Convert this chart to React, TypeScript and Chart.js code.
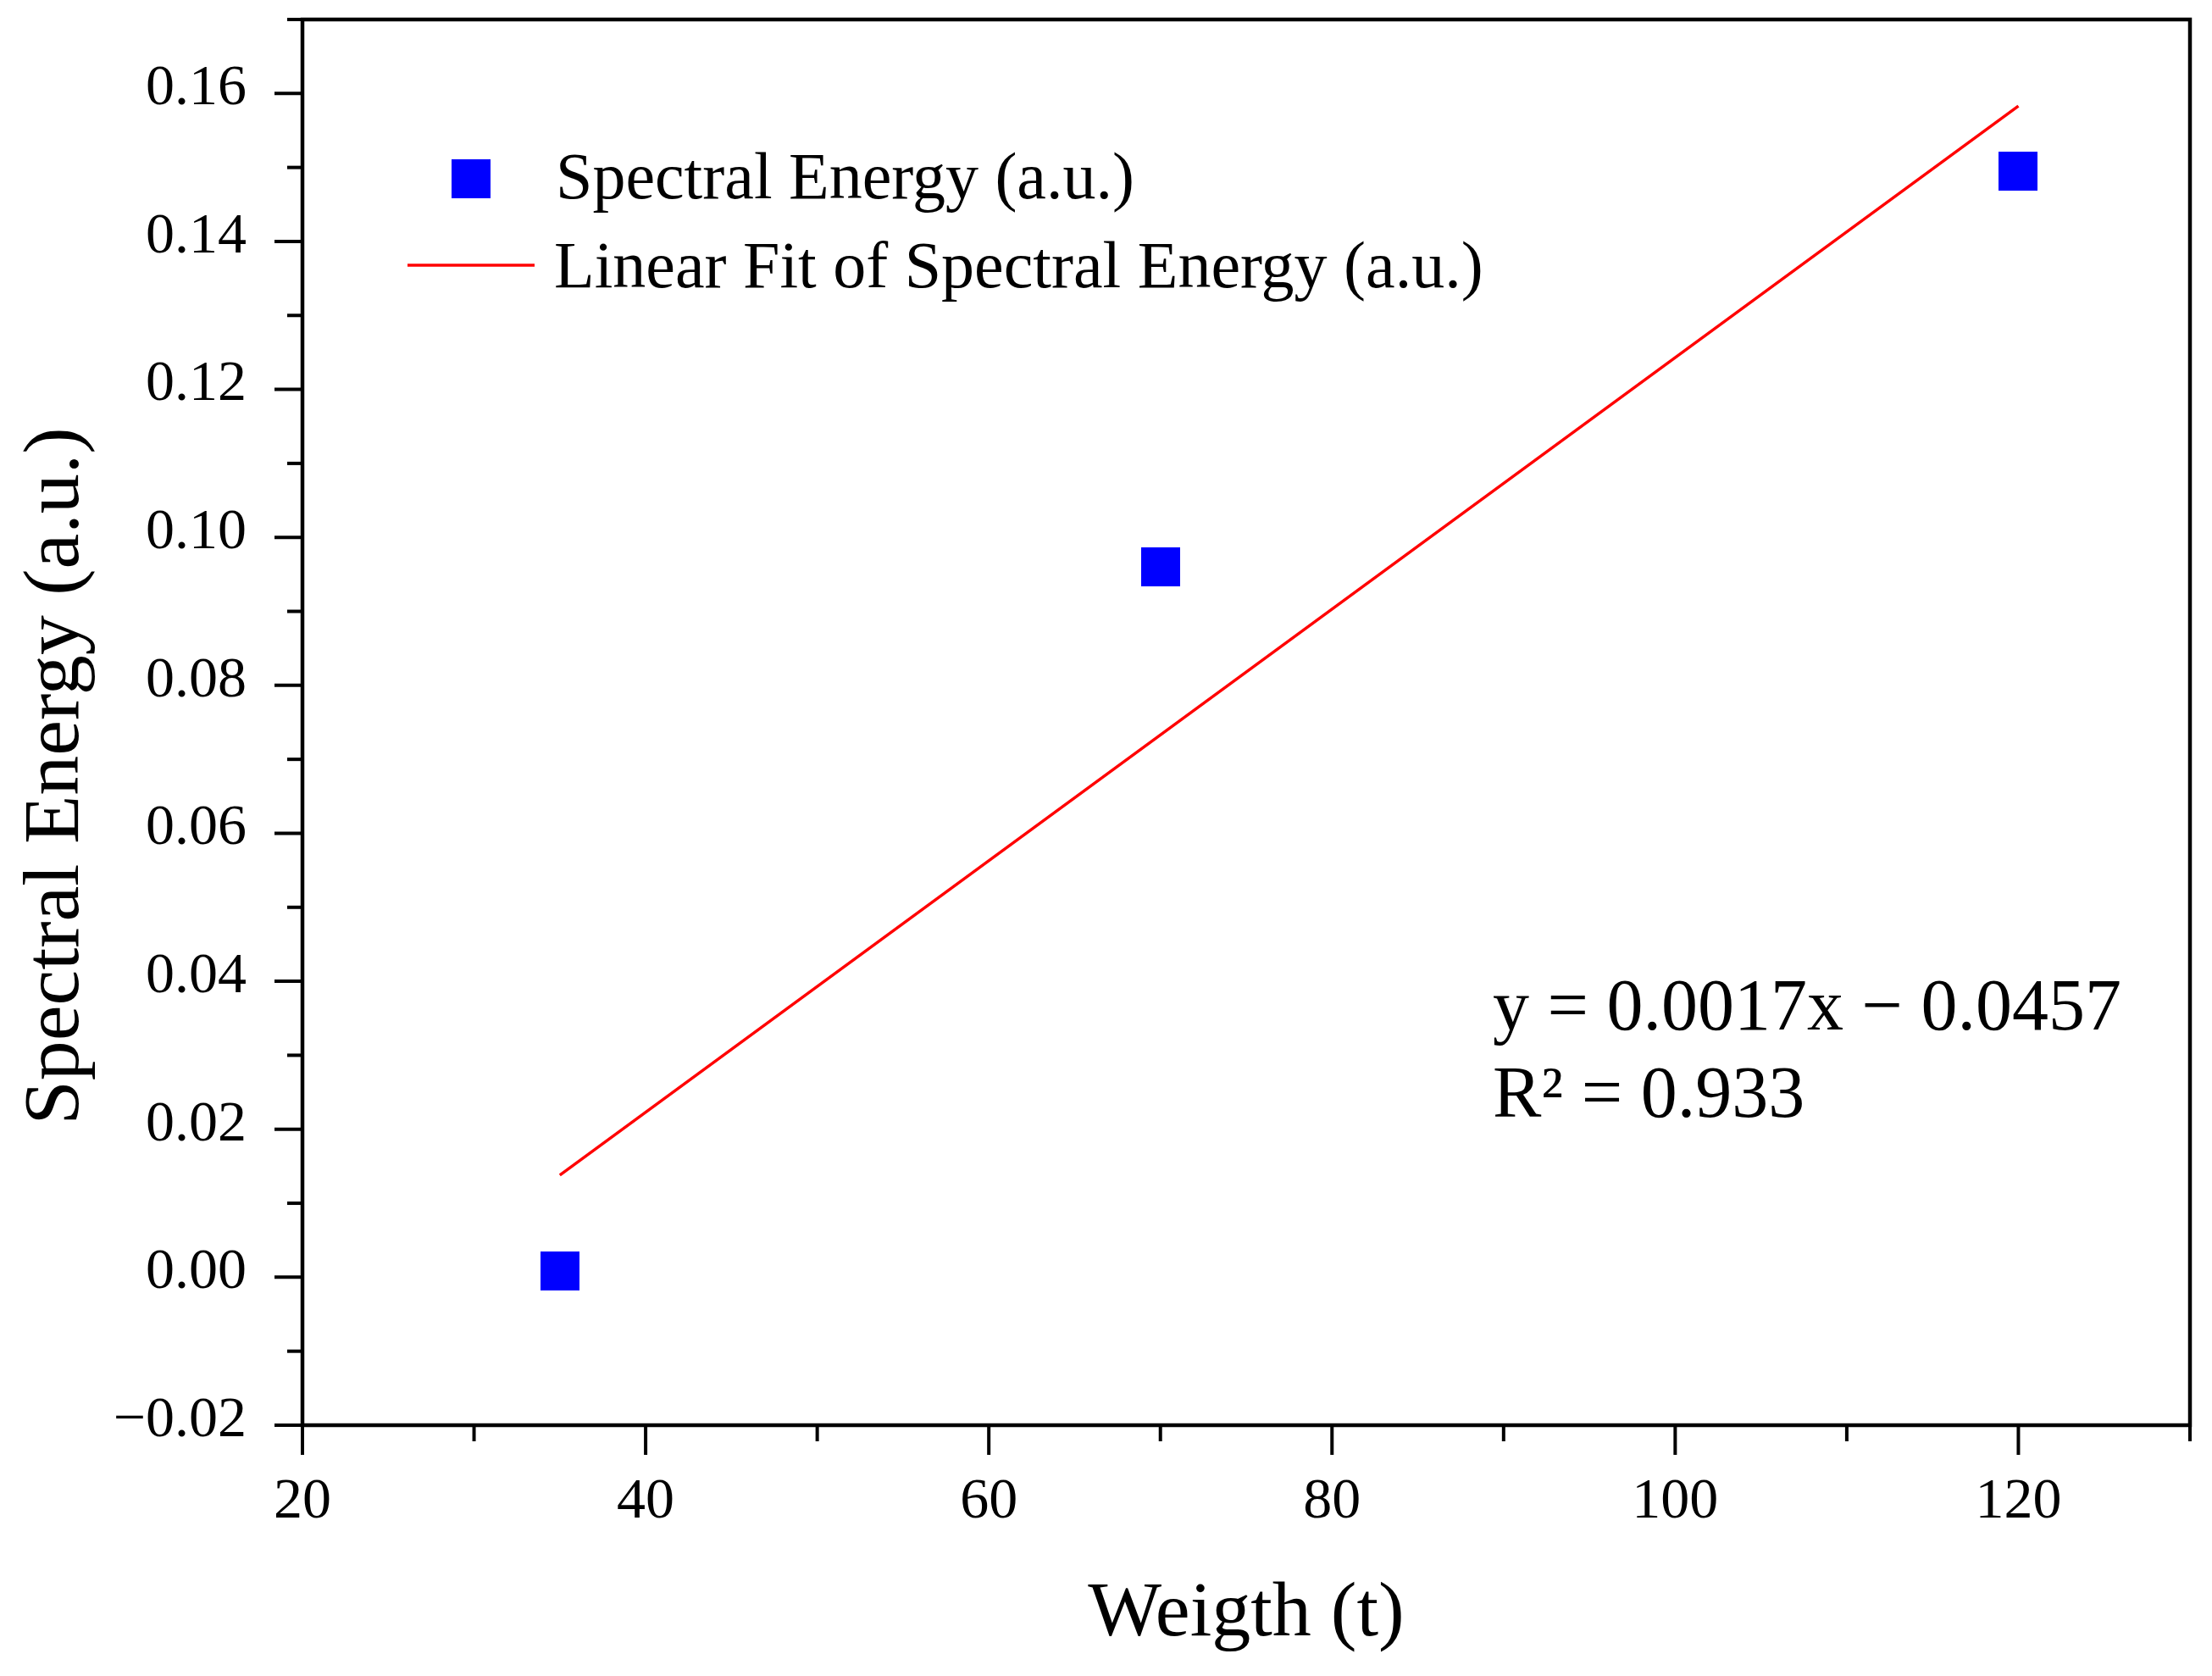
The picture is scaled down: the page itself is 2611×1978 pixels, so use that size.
import React, { useEffect, useRef } from 'react';
import { Chart, registerables } from 'chart.js';

Chart.register(...registerables);

// ---- data ----
const weights = [35, 70, 120];
const energies = [0.0008, 0.096, 0.1495];
const fitX = [35, 120];
const fitY = [0.0138, 0.1583];

const xTickValues = [20, 30, 40, 50, 60, 70, 80, 90, 100, 110, 120, 130];
const xMajorValues = [20, 40, 60, 80, 100, 120];
const xTickLabels = ['20', '40', '60', '80', '100', '120'];

const yTickValues = [-0.02, -0.01, 0, 0.01, 0.02, 0.03, 0.04, 0.05, 0.06, 0.07, 0.08, 0.09, 0.1, 0.11, 0.12, 0.13, 0.14, 0.15, 0.16, 0.17];
const yMajorValues = [-0.02, 0, 0.02, 0.04, 0.06, 0.08, 0.1, 0.12, 0.14, 0.16];
const yTickLabels = ['\u22120.02', '0.00', '0.02', '0.04', '0.06', '0.08', '0.10', '0.12', '0.14', '0.16'];

const legendLabels = ['Spectral Energy (a.u.)', 'Linear Fit of Spectral Energy (a.u.)'];
const equationLines = ['y = 0.0017x \u2212 0.0457', 'R\u00b2 = 0.933'];
const xTitle = 'Weigth (t)';
const yTitle = 'Spectral Energy (a.u.)';

const FONT = "'Liberation Serif', 'Times New Roman', serif";
const MARKER = 46;

const findIdx = (v: number, list: number[]) => list.findIndex((m) => Math.abs(m - v) < 1e-9);

export default function App() {
  const ref = useRef<HTMLCanvasElement>(null);

  useEffect(() => {
    const canvas = ref.current;
    if (!canvas) return;

    // square marker image (drawn by Chart.js as the point style)
    const marker = document.createElement('canvas');
    marker.width = MARKER;
    marker.height = MARKER;
    const mctx = marker.getContext('2d');
    if (mctx) {
      mctx.fillStyle = '#0000ff';
      mctx.fillRect(0, 0, MARKER, MARKER);
    }

    const decor = {
      id: 'decor',
      afterDraw(chart: any) {
        const { ctx, chartArea: a, scales } = chart;
        const xs = scales.x;
        const ys = scales.y;
        ctx.save();
        ctx.strokeStyle = '#000';
        ctx.lineWidth = 4.5;
        ctx.lineCap = 'butt';
        // frame
        ctx.strokeRect(a.left, a.top, a.right - a.left, a.bottom - a.top);
        // x ticks
        ctx.lineWidth = 4;
        for (const v of xTickValues) {
          const px = xs.getPixelForValue(v);
          const len = findIdx(v, xMajorValues) >= 0 ? 35 : 19;
          ctx.beginPath();
          ctx.moveTo(px, a.bottom);
          ctx.lineTo(px, a.bottom + len);
          ctx.stroke();
        }
        // y ticks
        for (const v of yTickValues) {
          const py = ys.getPixelForValue(v);
          const len = findIdx(v, yMajorValues) >= 0 ? 33 : 18;
          ctx.beginPath();
          ctx.moveTo(a.left, py);
          ctx.lineTo(a.left - len, py);
          ctx.stroke();
        }

        // legend
        const lx = 556; // marker centre
        const ly1 = 211;
        const ly2 = 313;
        ctx.fillStyle = '#0000ff';
        ctx.fillRect(lx - MARKER / 2, ly1 - MARKER / 2, MARKER, MARKER);
        ctx.strokeStyle = '#ff0000';
        ctx.lineWidth = 3.5;
        ctx.beginPath();
        ctx.moveTo(lx - 75, ly2);
        ctx.lineTo(lx + 75, ly2);
        ctx.stroke();
        ctx.fillStyle = '#000';
        ctx.font = `78px ${FONT}`;
        ctx.textAlign = 'left';
        ctx.textBaseline = 'alphabetic';
        ctx.fillText(legendLabels[0], 656, 234);
        ctx.fillText(legendLabels[1], 654, 339);

        // equation annotation
        ctx.font = `86px ${FONT}`;
        ctx.fillText(equationLines[0], 1762, 1215);
        ctx.fillText(equationLines[1], 1762, 1318);

        // y axis title
        ctx.save();
        ctx.translate(67, 916);
        ctx.rotate(-Math.PI / 2);
        ctx.font = `94px ${FONT}`;
        ctx.textAlign = 'center';
        ctx.textBaseline = 'middle';
        ctx.fillText(yTitle, 0, 0);
        ctx.restore();

        ctx.restore();
      },
    };

    const chart = new Chart(canvas, {
      type: 'scatter',
      data: {
        datasets: [
          {
            label: legendLabels[0],
            data: weights.map((w, i) => ({ x: w, y: energies[i] })),
            pointStyle: marker,
            pointRadius: 1,
            pointHoverRadius: 1,
            backgroundColor: '#0000ff',
            borderColor: '#0000ff',
            borderWidth: 0,
            showLine: false,
          },
          {
            label: legendLabels[1],
            data: fitX.map((w, i) => ({ x: w, y: fitY[i] })),
            showLine: true,
            pointRadius: 0,
            pointHoverRadius: 0,
            borderColor: '#ff0000',
            borderWidth: 3.5,
            backgroundColor: '#ff0000',
          },
        ],
      },
      options: {
        responsive: false,
        devicePixelRatio: 1,
        animation: false,
        events: [],
        layout: { padding: { left: 0, top: 23, right: 26, bottom: 0 } },
        plugins: {
          legend: { display: false },
          tooltip: { enabled: false },
        },
        scales: {
          x: {
            type: 'linear',
            min: 20,
            max: 130,
            grid: { display: false },
            border: { display: false },
            afterBuildTicks: (s: any) => {
              s.ticks = xTickValues.map((v) => ({ value: v }));
            },
            afterFit: (s: any) => {
              s.height = 296;
              s.paddingLeft = 0;
              s.paddingRight = 0;
              s.paddingTop = 0;
              s.paddingBottom = 0;
            },
            ticks: {
              autoSkip: false,
              maxRotation: 0,
              minRotation: 0,
              padding: 42,
              color: '#000',
              font: { family: FONT, size: 68 },
              callback: (v: any) => {
                const i = findIdx(Number(v), xMajorValues);
                return i >= 0 ? xTickLabels[i] : '';
              },
            },
            title: {
              display: true,
              text: xTitle,
              color: '#000',
              font: { family: FONT, size: 92 },
              padding: { top: 0, bottom: 17 },
            },
          },
          y: {
            type: 'linear',
            min: -0.02,
            max: 0.17,
            grid: { display: false },
            border: { display: false },
            afterBuildTicks: (s: any) => {
              s.ticks = yTickValues.map((v) => ({ value: v }));
            },
            afterFit: (s: any) => {
              s.width = 357;
              s.paddingLeft = 0;
              s.paddingRight = 0;
              s.paddingTop = 0;
              s.paddingBottom = 0;
            },
            ticks: {
              autoSkip: false,
              padding: 58,
              labelOffset: -5,
              color: '#000',
              font: { family: FONT, size: 68 },
              callback: (v: any) => {
                const i = findIdx(Number(v), yMajorValues);
                return i >= 0 ? yTickLabels[i] : '';
              },
            },
            title: { display: false },
          },
        },
      },
      plugins: [decor],
    } as any);

    return () => chart.destroy();
  }, []);

  return (
    <div style={{ position: 'absolute', left: 0, top: 0, width: 2611, height: 1978, background: '#fff' }}>
      <canvas ref={ref} width={2611} height={1978} style={{ display: 'block', width: 2611, height: 1978 }} />
    </div>
  );
}
